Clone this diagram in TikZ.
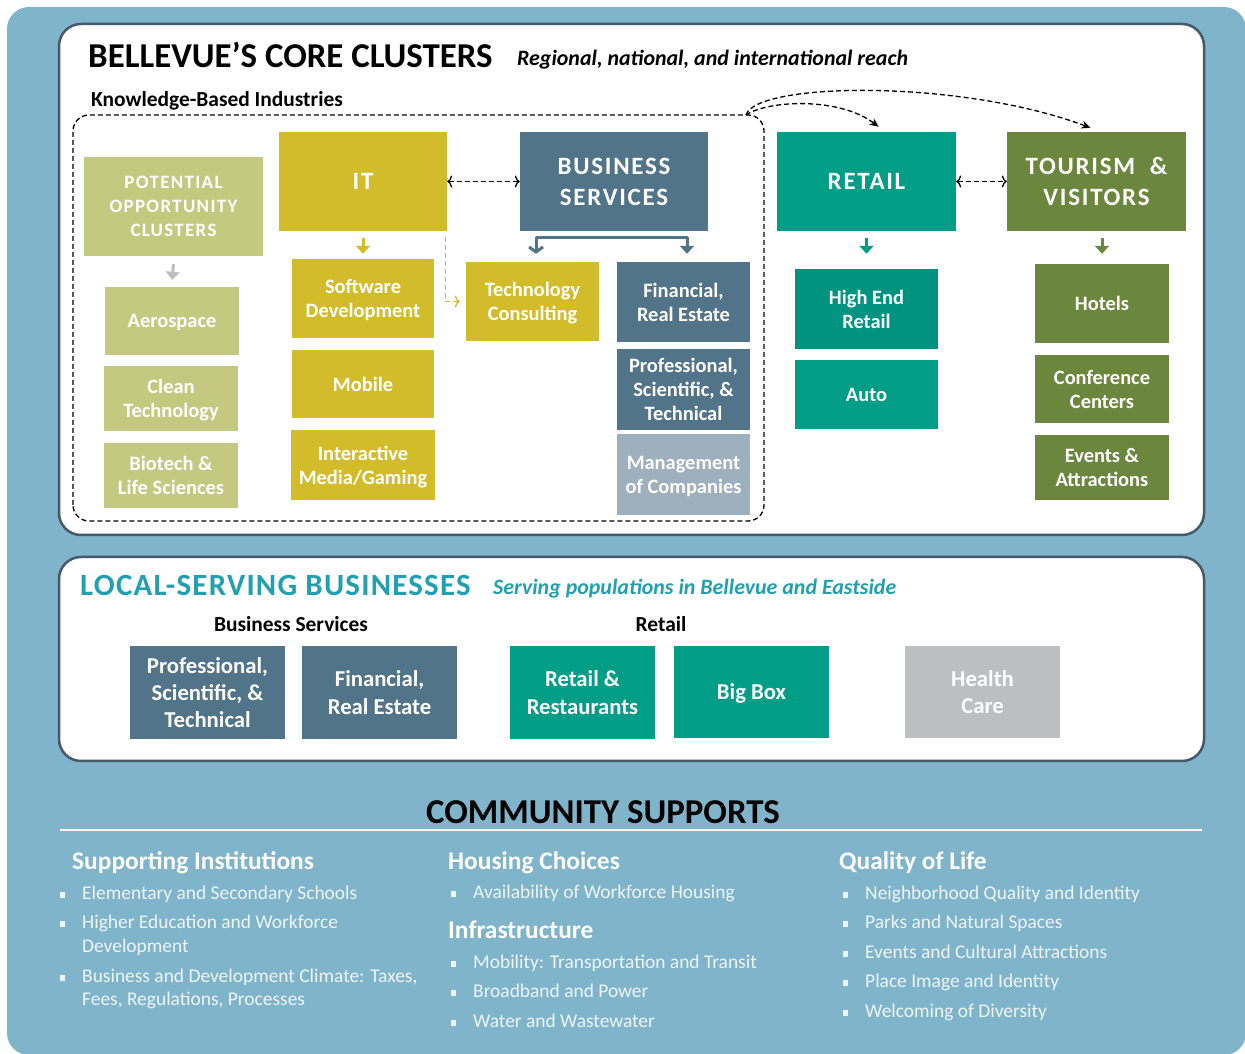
\documentclass[tikz,border=0pt]{standalone}
\usepackage{fontspec}
\setmainfont{Carlito}
\newfontfamily\spacedfont[LetterSpace=7]{Carlito}
\newfontfamily\widefont[LetterSpace=4]{Carlito}
\usetikzlibrary{arrows.meta}

\definecolor{bgblue}{HTML}{80B4CB}
\definecolor{panelline}{HTML}{46596A}
\definecolor{olivelight}{HTML}{C3C97F}
\definecolor{itgold}{HTML}{D2BC2A}
\definecolor{bsslate}{HTML}{527489}
\definecolor{mgmtgray}{HTML}{9EAFBE}
\definecolor{retailteal}{HTML}{009D87}
\definecolor{highteal}{HTML}{00937F}
\definecolor{tourgreen}{HTML}{6B873D}
\definecolor{healthgray}{HTML}{BDBEC0}
\definecolor{localteal}{HTML}{22A0B2}
\definecolor{arrowgray}{HTML}{BFBFBF}
\definecolor{listwhite}{HTML}{EEF5F8}

\newcommand{\sqbullet}{\makebox[22bp][l]{\rule[1.5bp]{5bp}{6bp}}}
\newcommand{\hangpad}{\hspace*{22bp}}

\tikzset{
  panel/.style={draw=panelline, line width=2.5bp, fill=white, rounded corners=22bp},
  wh/.style 2 args={minimum width=#1, minimum height=#2},
  tile/.style={inner sep=0pt, align=center, text=white, text depth=-2bp, font=\bfseries\fontsize{20.5}{24}\selectfont},
  headtile/.style={tile, text depth=-6bp, font=\spacedfont\bfseries\fontsize{25}{31}\selectfont},
  loctile/.style={tile, font=\bfseries\fontsize{22.8}{27.5}\selectfont},
  link/.style={line width=1.3bp, dash pattern=on 5bp off 3bp},
  drop/.style={line width=3bp, -{Triangle[width=14bp,length=8bp]}},
  listtext/.style={inner sep=0pt, align=left, text=listwhite, font=\fontsize{19.5}{24}\selectfont},
  colhead/.style={inner sep=0pt, anchor=base west, text=white, font=\bfseries\fontsize{25.5}{30}\selectfont},
}

\begin{document}
\begin{tikzpicture}[>={To[length=5bp,width=12bp]},line join=bevel]
\useasboundingbox (0bp,0bp) rectangle (1245bp,1054bp);
\fill [bgblue, rounded corners=22bp] (7bp,-1bp) rectangle (1246bp,1047bp);
%%
\draw [panel] (59bp,519bp) rectangle (1204bp,1030bp);
\draw [panel] (59bp,293bp) rectangle (1204bp,497bp);
\draw [link, rounded corners=16bp] (73bp,533bp) rectangle (764bp,939bp);
\coordinate (kbcorner) at (746bp,939bp);
%%
\node (coretitle) at (88bp,986bp) [anchor=base west, inner sep=0pt, font=\bfseries\fontsize{35}{40}\selectfont] {BELLEVUE'S CORE CLUSTERS};
  \node (reach) at (517bp,988bp) [anchor=base west, inner sep=0pt, font=\bfseries\itshape\fontsize{22}{26}\selectfont] {Regional, national, and international reach};
  \node (knowledge) at (91bp,947bp) [anchor=base west, inner sep=0pt, font=\bfseries\fontsize{21.5}{26}\selectfont] {Knowledge-Based Industries};
%%
\node (potential) at (173.5bp,847.5bp) [tile, fill=olivelight, wh={179bp}{99bp}, font=\spacedfont\bfseries\fontsize{19}{24}\selectfont] {POTENTIAL\\OPPORTUNITY\\CLUSTERS};
  \node (aerospace) at (172bp,733bp) [tile, fill=olivelight, wh={134bp}{68bp}] {Aerospace};
  \node (cleantech) at (171bp,655.5bp) [tile, fill=olivelight, wh={134bp}{65bp}] {Clean\\Technology};
  \node (biotech) at (171bp,578.5bp) [tile, fill=olivelight, wh={134bp}{65bp}] {Biotech \&\\Life Sciences};
  \node (it) at (363bp,872.5bp) [headtile, fill=itgold, wh={168bp}{99bp}] {IT};
  \node (software) at (363bp,755.5bp) [tile, fill=itgold, wh={142bp}{79bp}] {Software\\Development};
  \node (mobile) at (363bp,670bp) [tile, fill=itgold, wh={142bp}{68bp}] {Mobile};
  \node (media) at (363bp,589bp) [tile, fill=itgold, wh={144bp}{70bp}] {Interactive\\Media/Gaming};
  \node (techconsult) at (532.5bp,752.5bp) [tile, fill=itgold, wh={133bp}{79bp}] {Technology\\Consulting};
  \node (bizserv) at (614bp,872.5bp) [headtile, fill=bsslate, wh={188bp}{99bp}] {BUSINESS\\SERVICES};
  \node (financial) at (683.5bp,752bp) [tile, fill=bsslate, wh={133bp}{80bp}] {Financial,\\Real Estate};
  \node (professional) at (683.5bp,664.5bp) [tile, fill=bsslate, wh={133bp}{81bp}] {Professional,\\Scientific, \&\\Technical};
  \node (management) at (683.5bp,579.5bp) [tile, fill=mgmtgray, wh={133bp}{81bp}] {Management\\of Companies};
  \node (retail) at (866.5bp,872.5bp) [headtile, fill=retailteal, wh={179bp}{99bp}] {RETAIL};
  \node (highend) at (866.5bp,745bp) [tile, fill=highteal, wh={143bp}{80bp}] {High End\\Retail};
  \node (auto) at (866.5bp,659.5bp) [tile, fill=retailteal, wh={143bp}{69bp}] {Auto};
  \node (tourism) at (1096.5bp,872.5bp) [headtile, fill=tourgreen, wh={179bp}{99bp}] {TOURISM~~\&\\VISITORS};
  \node (hotels) at (1102bp,750.5bp) [tile, fill=tourgreen, wh={134bp}{79bp}] {Hotels};
  \node (conference) at (1102bp,665bp) [tile, fill=tourgreen, wh={134bp}{68bp}] {Conference\\Centers};
  \node (events) at (1102bp,586.5bp) [tile, fill=tourgreen, wh={134bp}{65bp}] {Events \&\\Attractions};
%%
\draw [drop, arrowgray] ([yshift=-8bp]potential.south) -- ([yshift=7bp]aerospace.north);
  \draw [drop, itgold] ([yshift=-7bp]it.south) -- ([yshift=5bp]software.north);
  \draw [drop, retailteal] ([yshift=-7bp]retail.south) -- ([yshift=15bp]highend.north);
  \draw [drop, tourgreen] (hotels.north |- tourism.south) ++(0bp,-7bp) -- ([yshift=10bp]hotels.north);
  \draw [bsslate, line width=3bp, {Straight Barb[length=5bp,width=14bp,line width=3bp]}-{Triangle[width=14bp,length=8bp]}] ([xshift=3.5bp,yshift=8bp]techconsult.north) -- ++(0bp,16bp) -| ([xshift=3.5bp,yshift=8bp]financial.north);
  \draw [link, itgold, ->] ([xshift=-2bp,yshift=-6bp]it.south east) |- ([xshift=-6bp]techconsult.west);
  \draw [link, <->] (it.east) -- (bizserv.west);
  \draw [link, <->] (retail.east) -- (tourism.west);
  \draw [link, -{Stealth[length=9bp,width=8bp]}] (kbcorner) .. controls (768bp,954bp) and (840bp,957bp) .. ([xshift=12bp,yshift=5bp]retail.north);
  \draw [link, -{Stealth[length=9bp,width=8bp]}] (kbcorner) .. controls (756bp,972bp) and (960bp,975bp) .. ([xshift=-6bp,yshift=4bp]tourism.north);
%%
\node (localtitle) at (80bp,458bp) [anchor=base west, inner sep=0pt, text=localteal, font=\widefont\bfseries\fontsize{31}{36}\selectfont] {LOCAL-SERVING BUSINESSES};
  \node (serving) at (493bp,459bp) [anchor=base west, inner sep=0pt, text=localteal, font=\bfseries\itshape\fontsize{22}{26}\selectfont] {Serving populations in Bellevue and Eastside};
  \node (locbslabel) at (291bp,422bp) [anchor=base, inner sep=0pt, font=\bfseries\fontsize{21.5}{26}\selectfont] {Business Services};
  \node (locretlabel) at (661bp,422bp) [anchor=base, inner sep=0pt, font=\bfseries\fontsize{21.5}{26}\selectfont] {Retail};
  \node (locprof) at (207.5bp,361.5bp) [loctile, fill=bsslate, wh={155bp}{93bp}] {Professional,\\Scientific, \&\\Technical};
  \node (locfin) at (379.5bp,361.5bp) [loctile, fill=bsslate, wh={155bp}{93bp}] {Financial,\\Real Estate};
  \node (locrest) at (582.5bp,361.5bp) [loctile, fill=retailteal, wh={145bp}{93bp}] {Retail \&\\Restaurants};
  \node (bigbox) at (751.5bp,362bp) [loctile, fill=retailteal, wh={155bp}{92bp}] {Big Box};
  \node (health) at (982.5bp,362bp) [loctile, fill=healthgray, wh={155bp}{92bp}] {Health\\Care};
%%
\node (commtitle) at (603bp,230bp) [anchor=base, inner sep=0pt, font=\bfseries\fontsize{35}{40}\selectfont] {COMMUNITY SUPPORTS};
  \draw [white, line width=2bp] (60bp,224bp) -- (1202bp,224bp);
  \node (instheading) at (72bp,184bp) [colhead] {Supporting Institutions};
  \node (househeading) at (448bp,184bp) [colhead] {Housing Choices};
  \node (infraheading) at (448bp,115bp) [colhead] {Infrastructure};
  \node (lifeheading) at (839bp,184bp) [colhead] {Quality of Life};
  % multi-line nodes sit on the baseline of their last line
  \node (instlist) at (60bp,48bp) [anchor=base west, listtext] {\sqbullet Elementary and Secondary Schools\\[5.5bp]\sqbullet Higher Education and Workforce\\\hangpad Development\\[5.5bp]\sqbullet Business and Development Climate: Taxes,\\\hangpad Fees, Regulations, Processes};
  \node (houselist) at (451bp,155bp) [anchor=base west, listtext] {\sqbullet Availability of Workforce Housing};
  \node (infralist) at (451bp,27bp) [anchor=base west, listtext] {\sqbullet Mobility: Transportation and Transit\\[5.5bp]\sqbullet Broadband and Power\\[5.5bp]\sqbullet Water and Wastewater};
  \node (lifelist) at (843bp,37bp) [anchor=base west, listtext] {\sqbullet Neighborhood Quality and Identity\\[5.5bp]\sqbullet Parks and Natural Spaces\\[5.5bp]\sqbullet Events and Cultural Attractions\\[5.5bp]\sqbullet Place Image and Identity\\[5.5bp]\sqbullet Welcoming of Diversity};
%
\end{tikzpicture}
\end{document}
